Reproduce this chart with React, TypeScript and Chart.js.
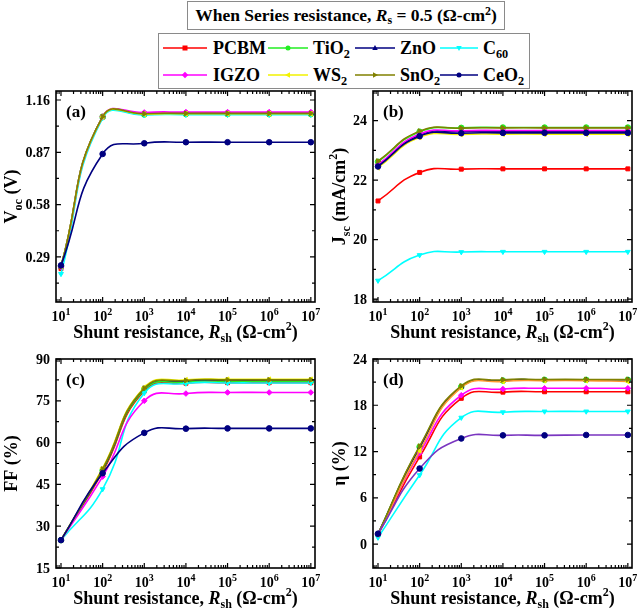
import React, { useEffect, useRef } from "react";
import { Chart, registerables } from "chart.js";
Chart.register(...registerables);

// ---------------- DATA ----------------
const shuntResistance = [1e1, 1e2, 1e3, 1e4, 1e5, 1e6, 1e7];
const xTickExponents = [1, 2, 3, 4, 5, 6, 7];
const materials = ["PCBM", "TiO2", "ZnO", "C60", "IGZO", "WS2", "SnO2", "CeO2"];
const legendMain = ["PCBM", "TiO", "ZnO", "C", "IGZO", "WS", "SnO", "CeO"];
const legendSub = ["", "2", "", "60", "", "2", "2", "2"];

// Voc (V)  order: PCBM, TiO2, ZnO, C60, IGZO, WS2, SnO2, CeO2
const vocValues = [
  [0.225, 1.065, 1.085, 1.088, 1.088, 1.088, 1.088],
  [0.238, 1.067, 1.08, 1.082, 1.082, 1.082, 1.082],
  [0.236, 1.066, 1.083, 1.085, 1.085, 1.085, 1.085],
  [0.196, 1.06, 1.077, 1.079, 1.079, 1.079, 1.079],
  [0.235, 1.068, 1.091, 1.093, 1.093, 1.093, 1.093],
  [0.237, 1.067, 1.082, 1.084, 1.084, 1.084, 1.084],
  [0.238, 1.068, 1.084, 1.086, 1.086, 1.086, 1.086],
  [0.243, 0.861, 0.92, 0.926, 0.926, 0.926, 0.926],
];
// Jsc (mA/cm2)
const jscValues = [
  [21.3, 22.26, 22.37, 22.38, 22.38, 22.38, 22.38],
  [22.62, 23.63, 23.76, 23.77, 23.77, 23.77, 23.77],
  [22.5, 23.52, 23.63, 23.64, 23.64, 23.64, 23.64],
  [18.62, 19.48, 19.58, 19.59, 19.59, 19.59, 19.59],
  [22.52, 23.55, 23.66, 23.67, 23.67, 23.67, 23.67],
  [22.42, 23.44, 23.54, 23.55, 23.55, 23.55, 23.55],
  [22.64, 23.65, 23.75, 23.76, 23.76, 23.76, 23.76],
  [22.46, 23.48, 23.58, 23.59, 23.59, 23.59, 23.59],
];
// FF (%)
const ffValues = [
  [25, 49.5, 78.5, 81.3, 81.5, 81.5, 81.5],
  [25, 50, 79, 81.8, 82, 82, 82],
  [25, 50.3, 79.5, 82.2, 82.4, 82.4, 82.4],
  [25, 43.3, 77.8, 81.2, 81.4, 81.4, 81.4],
  [25, 47.8, 75, 77.6, 78, 78, 78],
  [25, 50.8, 79.8, 82.5, 82.7, 82.7, 82.7],
  [25, 50.5, 79.5, 82.3, 82.5, 82.5, 82.5],
  [25, 49, 63.5, 65, 65.1, 65.1, 65.1],
];
// Efficiency eta (%)
const etaValues = [
  [1.2, 11.3, 18.9, 19.7, 19.75, 19.75, 19.75],
  [1.3, 12.6, 20.4, 21.2, 21.3, 21.3, 21.3],
  [1.3, 12.5, 20.4, 21.2, 21.3, 21.3, 21.3],
  [0.85, 8.95, 16.4, 17.1, 17.2, 17.2, 17.2],
  [1.25, 11.8, 19.3, 20.1, 20.2, 20.2, 20.2],
  [1.25, 12.1, 20.3, 21.1, 21.2, 21.2, 21.1],
  [1.3, 12.7, 20.5, 21.3, 21.35, 21.35, 21.35],
  [1.35, 9.8, 13.7, 14.1, 14.1, 14.15, 14.15],
];

const vocTicks = [0.29, 0.58, 0.87, 1.16];
const jscTicks = [18, 20, 22, 24];
const ffTicks = [15, 30, 45, 60, 75, 90];
const etaTicks = [0, 6, 12, 18, 24];

// ---------------- STYLE ----------------
const FONT = '"Liberation Serif", "Times New Roman", serif';
const lineColors = ["#FF0000", "#22EE22", "#000080", "#00FFFF", "#FF00FF", "#F2F200", "#808000", "#000080"];
const markerColors = lineColors;
const pointStyles = ["rect", "circle", "triangle", "triangle", "rectRot", "triangle", "triangle", "circle"];
const pointRotations = [0, 0, 0, 180, 0, -90, 90, 0];

type Seg = { t: string; sub?: boolean; sup?: boolean; it?: boolean };

function drawRich(
  ctx: CanvasRenderingContext2D,
  segs: Seg[],
  x: number,
  y: number,
  size: number,
  rotate: boolean
) {
  const small = Math.round(size * 0.68);
  const fontOf = (s: Seg) => `${s.it ? "italic " : ""}bold ${s.sub || s.sup ? small : size}px ${FONT}`;
  let w = 0;
  const ws = segs.map((s) => {
    ctx.font = fontOf(s);
    const m = ctx.measureText(s.t).width;
    w += m;
    return m;
  });
  ctx.save();
  ctx.translate(x, y);
  if (rotate) ctx.rotate(-Math.PI / 2);
  ctx.textBaseline = "alphabetic";
  ctx.textAlign = "left";
  ctx.fillStyle = "#000";
  let cx = -w / 2;
  segs.forEach((s, i) => {
    ctx.font = fontOf(s);
    const dy = s.sub ? size * 0.25 : s.sup ? -size * 0.42 : 0;
    ctx.fillText(s.t, cx, dy);
    cx += ws[i];
  });
  ctx.restore();
}

type Panel = {
  key: string;
  values: number[][];
  yMin: number;
  yMax: number;
  yTicks: number[];
  decimals: number;
  yTitle: Seg[];
  yTitleX: number;
  box: { left: number; top: number; width: number; height: number };
  area: { l: number; r: number; t: number; b: number };
  lineOverride?: Record<number, string>;
};

const xTitle: Seg[] = [
  { t: "Shunt resistance, " },
  { t: "R", it: true },
  { t: "sh", sub: true },
  { t: " (Ω-cm" },
  { t: "2", sup: true },
  { t: ")" },
];

const panels: Panel[] = [
  {
    key: "a",
    values: vocValues,
    yMin: 0.04,
    yMax: 1.21,
    yTicks: vocTicks,
    decimals: 2,
    yTitle: [{ t: "V" }, { t: "oc", sub: true }, { t: " (V)" }],
    yTitleX: 17,
    box: { left: 0, top: 79, width: 320, height: 271 },
    area: { l: 56, r: 315, t: 91, b: 302 },
  },
  {
    key: "b",
    values: jscValues,
    yMin: 17.9,
    yMax: 25,
    yTicks: jscTicks,
    decimals: 0,
    yTitle: [{ t: "J" }, { t: "sc", sub: true }, { t: " (mA/cm" }, { t: "2", sup: true }, { t: ")" }],
    yTitleX: 28,
    box: { left: 317, top: 79, width: 321, height: 271 },
    area: { l: 373, r: 632, t: 91, b: 302 },
  },
  {
    key: "c",
    values: ffValues,
    yMin: 15,
    yMax: 90,
    yTicks: ffTicks,
    decimals: 0,
    yTitle: [{ t: "FF (%)" }],
    yTitleX: 17,
    box: { left: 0, top: 347, width: 320, height: 265 },
    area: { l: 56, r: 315, t: 359, b: 568 },
  },
  {
    key: "d",
    values: etaValues,
    yMin: -3.1,
    yMax: 24,
    yTicks: etaTicks,
    decimals: 0,
    yTitle: [{ t: "η (%)" }],
    yTitleX: 28,
    box: { left: 317, top: 347, width: 321, height: 265 },
    area: { l: 373, r: 632, t: 359, b: 568 },
    lineOverride: { 5: "#FF9A2E", 7: "#7A35C0" },
  },
];

const X_MIN = Math.pow(10, 0.88);
const X_MAX = Math.pow(10, 7.1);

function framePlugin(p: Panel) {
  return {
    id: "frame_" + p.key,
    afterDraw(chart: any) {
      const { ctx, chartArea: a, scales } = chart;
      const xs = scales.x;
      const ys = scales.y;
      ctx.save();
      ctx.strokeStyle = "#000";
      ctx.lineWidth = 1.6;
      ctx.strokeRect(a.left, a.top, a.right - a.left, a.bottom - a.top);
      ctx.lineWidth = 1.2;
      ctx.beginPath();
      const xTick = (v: number, len: number) => {
        const x = xs.getPixelForValue(v);
        ctx.moveTo(x, a.bottom);
        ctx.lineTo(x, a.bottom - len);
        ctx.moveTo(x, a.top);
        ctx.lineTo(x, a.top + len);
      };
      const yTick = (v: number, len: number) => {
        const y = ys.getPixelForValue(v);
        ctx.moveTo(a.left, y);
        ctx.lineTo(a.left + len, y);
        ctx.moveTo(a.right, y);
        ctx.lineTo(a.right - len, y);
      };
      xTickExponents.forEach((e) => xTick(Math.pow(10, e), 5));
      for (let e = 0; e <= 7; e++) {
        for (let m = 2; m <= 9; m++) {
          const v = m * Math.pow(10, e);
          if (v > X_MIN && v < X_MAX) xTick(v, 3);
        }
      }
      const step = p.yTicks[1] - p.yTicks[0];
      p.yTicks.forEach((v) => yTick(v, 5));
      for (let v = p.yTicks[0] - step / 2; v < p.yMax; v += step) {
        if (v > p.yMin + 1e-9 && v < p.yMax - 1e-9) yTick(v, 3);
      }
      ctx.stroke();

      // y tick labels (positions from the library's y scale)
      ctx.font = `bold 14px ${FONT}`;
      ctx.fillStyle = "#000";
      ctx.textAlign = "right";
      ctx.textBaseline = "middle";
      p.yTicks.forEach((v) => {
        ctx.fillText(v.toFixed(p.decimals), a.left - 6, ys.getPixelForValue(v) + 1);
      });
      // x tick labels
      xTickExponents.forEach((e) => {
        const x = xs.getPixelForValue(Math.pow(10, e));
        drawRich(ctx, [{ t: "10" }, { t: String(e), sup: true }], x, a.bottom + 19, 14, false);
      });
      // axis titles
      drawRich(ctx, xTitle, (a.left + a.right) / 2, a.bottom + 35.5, 18, false);
      drawRich(ctx, p.yTitle, p.yTitleX, (a.top + a.bottom) / 2, 18, true);
      // panel letter
      ctx.font = `bold 17px ${FONT}`;
      ctx.textAlign = "left";
      ctx.textBaseline = "alphabetic";
      ctx.fillText(`(${p.key})`, a.left + 10, a.top + 26);
      ctx.restore();
    },
  };
}

function PanelChart({ p }: { p: Panel }) {
  const ref = useRef<HTMLCanvasElement>(null);
  useEffect(() => {
    const datasets = materials.map((name, i) => ({
      label: name,
      data: shuntResistance.map((x, j) => ({ x, y: p.values[i][j] })),
      borderColor: (p.lineOverride && p.lineOverride[i]) || lineColors[i],
      backgroundColor: markerColors[i],
      pointBackgroundColor: markerColors[i],
      pointBorderColor: markerColors[i],
      pointStyle: pointStyles[i],
      rotation: pointRotations[i],
      pointRotation: pointRotations[i],
      pointRadius: 2.8,
      pointBorderWidth: 1,
      borderWidth: 1.6,
      tension: 0.5,
      fill: false,
      clip: false,
      order: materials.length - i,
    }));
    const chart = new Chart(ref.current as HTMLCanvasElement, {
      type: "line",
      data: { datasets } as any,
      options: {
        animation: false,
        responsive: false,
        maintainAspectRatio: false,
        layout: {
          autoPadding: false,
          padding: {
            left: p.area.l - p.box.left,
            top: p.area.t - p.box.top,
            right: p.box.left + p.box.width - p.area.r,
            bottom: p.box.top + p.box.height - p.area.b,
          },
        },
        plugins: { legend: { display: false }, tooltip: { enabled: false } },
        scales: {
          x: {
            type: "logarithmic",
            display: false,
            min: X_MIN,
            max: X_MAX,
            grid: { display: false, drawTicks: false },
            border: { display: false },
            ticks: { display: false },
          },
          y: {
            type: "linear",
            display: false,
            min: p.yMin,
            max: p.yMax,
            grid: { display: false, drawTicks: false },
            border: { display: false },
            ticks: { display: false },
          },
        },
      } as any,
      plugins: [framePlugin(p)],
    });
    return () => chart.destroy();
  }, []);
  return (
    <canvas
      ref={ref}
      width={p.box.width}
      height={p.box.height}
      style={{ position: "absolute", left: p.box.left, top: p.box.top, width: p.box.width, height: p.box.height }}
    />
  );
}

const legendCols = [
  { l1: 163, l2: 207, tx: 213 },
  { l1: 268, l2: 308, tx: 313 },
  { l1: 355, l2: 395, tx: 400 },
  { l1: 440, l2: 478, tx: 483 },
];
const legendRows = [48, 75];

function markerSvg(i: number, cx: number, cy: number) {
  const c = markerColors[i];
  const s = 2.5;
  const tri = (rot: number) => {
    const pts = [
      [0, -s * 1.2],
      [s * 1.1, s * 0.8],
      [-s * 1.1, s * 0.8],
    ].map(([x, y]) => {
      const r = (rot * Math.PI) / 180;
      return `${cx + x * Math.cos(r) - y * Math.sin(r)},${cy + x * Math.sin(r) + y * Math.cos(r)}`;
    });
    return <polygon points={pts.join(" ")} fill={c} />;
  };
  switch (pointStyles[i]) {
    case "rect":
      return <rect x={cx - s} y={cy - s} width={2 * s} height={2 * s} fill={c} />;
    case "circle":
      return <circle cx={cx} cy={cy} r={s} fill={c} />;
    case "rectRot":
      return <polygon points={`${cx},${cy - s * 1.3} ${cx + s * 1.3},${cy} ${cx},${cy + s * 1.3} ${cx - s * 1.3},${cy}`} fill={c} />;
    default:
      return tri(pointRotations[i]);
  }
}

export default function App() {
  return (
    <div style={{ position: "fixed", left: 0, top: 0, width: 638, height: 612, background: "#fff", fontFamily: FONT, overflow: "hidden" }}>
      {/* Title box */}
      <div
        style={{
          position: "absolute",
          left: 187,
          top: 1,
          width: 318,
          height: 29,
          boxSizing: "border-box",
          border: "1px solid #8a8a8a",
          display: "flex",
          alignItems: "center",
          justifyContent: "center",
          fontWeight: "bold",
          fontSize: 17.5,
          lineHeight: "20px",
          whiteSpace: "nowrap",
          color: "#000",
        }}
      >
        <span>
          When Series resistance, <i>R</i>
          <span style={{ fontSize: "0.68em", position: "relative", top: "0.3em" }}>s</span> = 0.5 (Ω-cm
          <span style={{ fontSize: "0.68em", position: "relative", top: "-0.45em" }}>2</span>)
        </span>
      </div>
      {/* Legend box */}
      <div
        style={{
          position: "absolute",
          left: 158,
          top: 33,
          width: 372,
          height: 56,
          boxSizing: "border-box",
          border: "1px solid #8a8a8a",
        }}
      />
      <svg style={{ position: "absolute", left: 0, top: 0 }} width={638} height={92}>
        {materials.map((m, i) => {
          const col = legendCols[i % 4];
          const y = legendRows[Math.floor(i / 4)];
          return (
            <g key={m}>
              <line x1={col.l1} y1={y} x2={col.l2} y2={y} stroke={lineColors[i]} strokeWidth={1.6} />
              {markerSvg(i, (col.l1 + col.l2) / 2, y)}
            </g>
          );
        })}
      </svg>
      {materials.map((m, i) => {
        const col = legendCols[i % 4];
        const y = legendRows[Math.floor(i / 4)];
        return (
          <div
            key={m}
            style={{
              position: "absolute",
              left: col.tx,
              top: y - 11,
              height: 22,
              lineHeight: "22px",
              fontSize: 18,
              fontWeight: "bold",
              whiteSpace: "nowrap",
              color: "#000",
            }}
          >
            {legendMain[i]}
            {legendSub[i] && (
              <span style={{ fontSize: "0.68em", position: "relative", top: "0.32em" }}>{legendSub[i]}</span>
            )}
          </div>
        );
      })}
      {panels.map((p) => (
        <PanelChart key={p.key} p={p} />
      ))}
    </div>
  );
}
